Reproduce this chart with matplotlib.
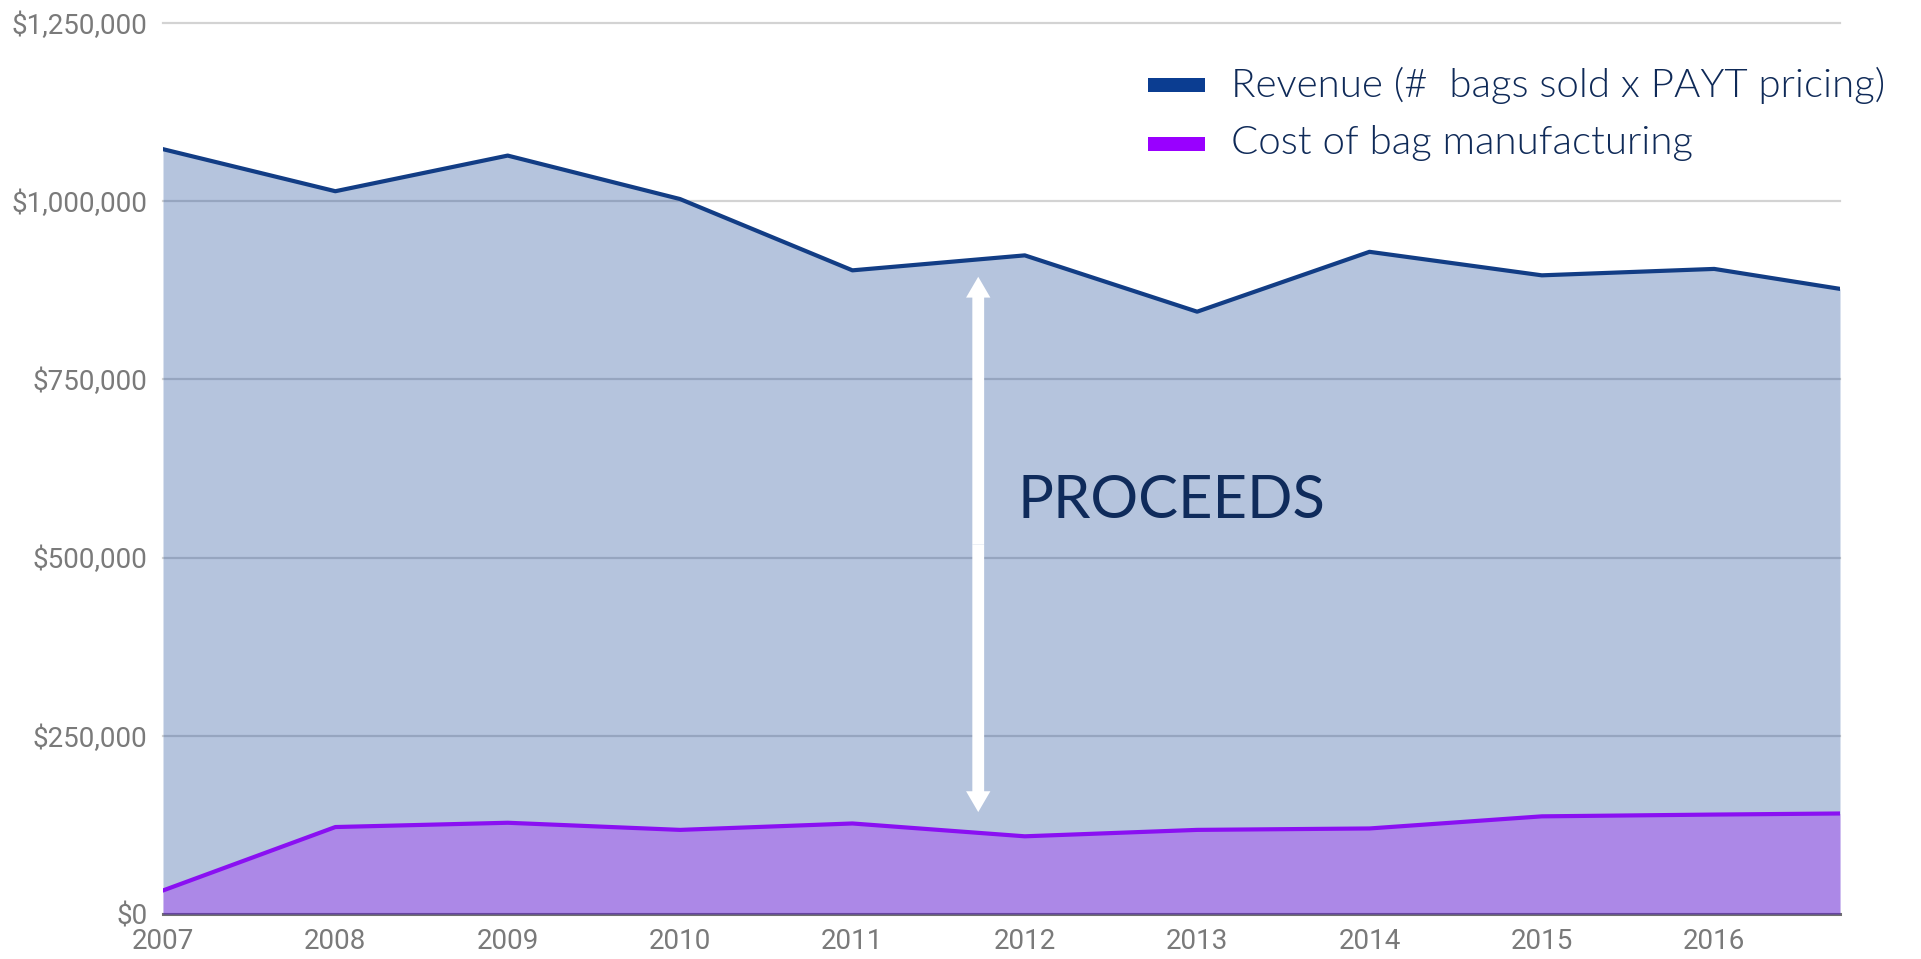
import matplotlib
matplotlib.use('Agg')
import matplotlib.pyplot as plt
from matplotlib.patches import Rectangle, FancyArrowPatch
from matplotlib.patches import ArrowStyle
from matplotlib.ticker import FuncFormatter

# ---------------- data ----------------
years = [2007, 2008, 2009, 2010, 2011, 2012, 2013, 2014, 2015, 2016, 2016.73]
revenue = [1073000, 1014000, 1064000, 1003000, 903000, 924000, 845000, 929000, 896000, 905000, 877000]
cost = [33000, 122000, 128000, 118000, 127000, 109000, 118000, 120000, 137000, 139500, 141000]
x_tick_years = [2007, 2008, 2009, 2010, 2011, 2012, 2013, 2014, 2015, 2016]
y_ticks = [0, 250000, 500000, 750000, 1000000, 1250000]
legend_labels = ['Revenue (#  bags sold x PAYT pricing)', 'Cost of bag manufacturing']
proceeds_label = 'PROCEEDS'
arrow_year = 2011.73
arrow_low, arrow_high = 143000, 894000

# ---------------- styling ----------------
W, H = 1921, 959
REV_COLOR = '#0b3d91'
COST_COLOR = '#9900ff'
TEXT_NAVY = '#0f2a58'

fig = plt.figure(figsize=(W / 100, H / 100), dpi=100)
fig.patch.set_facecolor('white')


def fx(px):
    return px / W


def fy(py):
    return 1 - py / H


ax = fig.add_axes([fx(163), fy(914), (1840 - 163) / W, (914 - 23) / H])
ax.set_facecolor('white')

ax.fill_between(years, 0, revenue, color=REV_COLOR, alpha=0.3, lw=0, zorder=2)
ax.fill_between(years, 0, cost, color=COST_COLOR, alpha=0.3, lw=0, zorder=2)
ax.plot(years, revenue, color='#123d85', lw=3.0, zorder=4, solid_joinstyle='round')
ax.plot(years, cost, color='#8a10f2', lw=3.0, zorder=4, solid_joinstyle='round')

ax.set_xlim(years[0], years[-1])
ax.set_ylim(y_ticks[0], y_ticks[-1])
ax.set_yticks(y_ticks)
ax.set_xticks(x_tick_years)
ax.set_xticklabels([str(y) for y in x_tick_years])
ax.yaxis.set_major_formatter(FuncFormatter(lambda v, p: f'${v:,.0f}'))

ax.yaxis.grid(True, color='#d3d3d3', lw=1.6, zorder=1)
ax.xaxis.grid(False)
ax.set_axisbelow(True)
for gl in ax.get_ygridlines():
    gl.set_clip_on(False)
ax.axhline(0, color='#707070', lw=2.2, zorder=1.5, clip_on=False)

for s in ax.spines.values():
    s.set_visible(False)

ax.tick_params(axis='both', length=0, labelsize=20, labelcolor='#7a7a7a')
ax.tick_params(axis='y', pad=11)
ax.tick_params(axis='x', pad=10)
for lab in ax.get_xticklabels() + ax.get_yticklabels():
    lab.set_family(['Roboto', 'DejaVu Sans'])

# double-headed white arrow
style = ArrowStyle.Simple(head_length=15, head_width=17.5, tail_width=8.5)
mid = (arrow_low + arrow_high) / 2
for end in (arrow_low, arrow_high):
    arr = FancyArrowPatch((arrow_year, mid), (arrow_year, end), arrowstyle=style,
                          mutation_scale=1, shrinkA=0, shrinkB=0, lw=0,
                          facecolor='white', edgecolor='none', zorder=5)
    ax.add_patch(arr)

ax.text(2011.96, 555000, proceeds_label, fontsize=43, family=['Lato', 'DejaVu Sans'],
        color='#0f2b5b', ha='left', va='baseline', zorder=6)

# legend (manual, matching the original layout)
legend_colors = [REV_COLOR, COST_COLOR]
legend_baselines = [97, 154]
legend_patch_tops = [78, 137]
for lab, col, base, top in zip(legend_labels, legend_colors, legend_baselines, legend_patch_tops):
    fig.patches.append(Rectangle((fx(1148), fy(top + 14)), 57 / W, 14 / H,
                                 transform=fig.transFigure, facecolor=col,
                                 edgecolor='none', zorder=10))
    fig.text(fx(1231), fy(base), lab, fontsize=29, fontweight=300,
             family=['Lato', 'DejaVu Sans'], color=TEXT_NAVY,
             ha='left', va='baseline', zorder=10)

fig.savefig('out.png', dpi=100, facecolor='white')
